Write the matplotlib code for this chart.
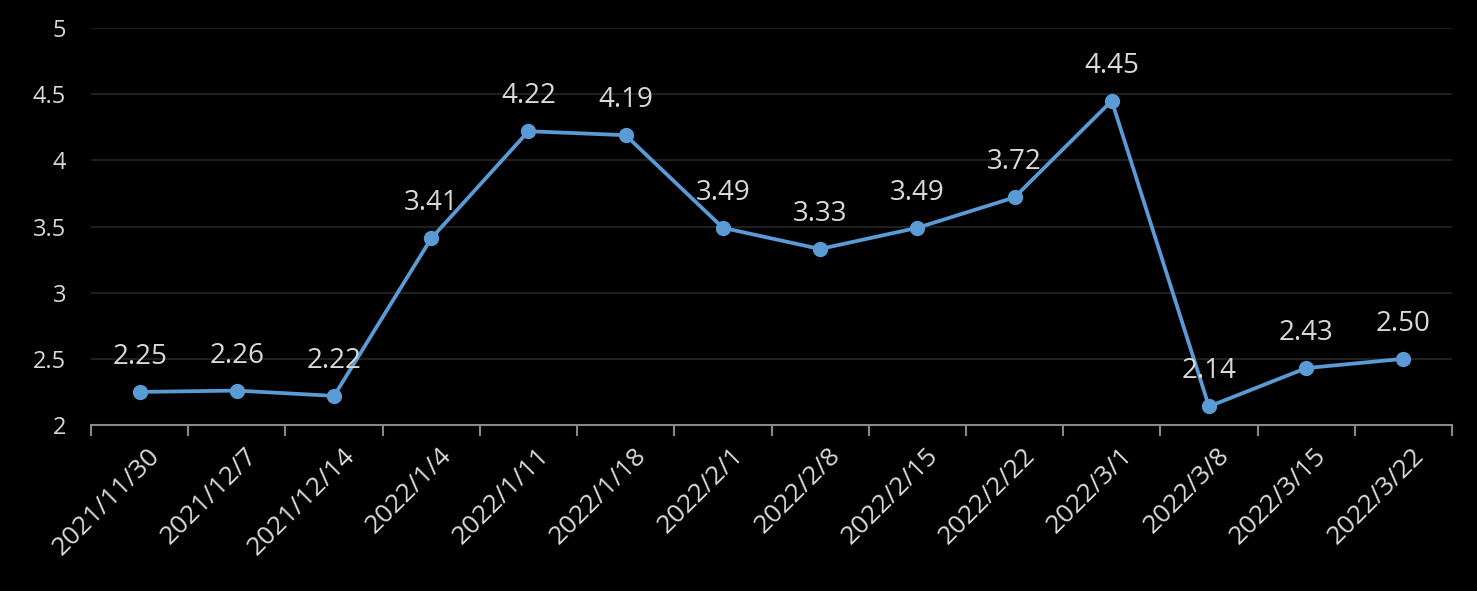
import matplotlib
matplotlib.use("Agg")
import matplotlib.pyplot as plt
from matplotlib.ticker import FixedLocator

dates = ["2021/11/30", "2021/12/7", "2021/12/14", "2022/1/4", "2022/1/11", "2022/1/18",
         "2022/2/1", "2022/2/8", "2022/2/15", "2022/2/22", "2022/3/1", "2022/3/8",
         "2022/3/15", "2022/3/22"]
values = [2.25, 2.26, 2.22, 3.41, 4.22, 4.19, 3.49, 3.33, 3.49, 3.72, 4.45, 2.14, 2.43, 2.50]
yticks = [2, 2.5, 3, 3.5, 4, 4.5, 5]
ytick_labels = ['2', '2.5', '3', '3.5', '4', '4.5', '5']

plt.rcParams['font.family'] = ['Open Sans', 'DejaVu Sans']
txt = '#d9d9d9'
line_c = '#5b9bd5'

fig = plt.figure(figsize=(14.77, 5.91), dpi=100, facecolor='black')
ax = fig.add_axes([91/1477, 1-425/591, (1452-91)/1477, (425-28)/591])
ax.set_facecolor('black')

x = list(range(len(dates)))
ax.plot(x, values, color=line_c, lw=2.7, marker='o', ms=10, zorder=3, clip_on=False)
for xi, v in zip(x, values):
    ax.annotate(f"{v:.2f}", (xi, v), xytext=(0, 35), textcoords='offset pixels',
                ha='center', va='center', color=txt, fontsize=20, zorder=4)

ax.set_xlim(-0.5, len(dates) - 0.5)
ax.set_ylim(2, 5)
ax.set_yticks(yticks)
ax.set_yticklabels(ytick_labels)
ax.tick_params(axis='y', length=0, pad=18, labelsize=17, labelcolor=txt)
ax.grid(axis='y', color='#262626', lw=1.2, zorder=0)

ax.set_xticks(x)
ax.set_xticklabels(dates, rotation=45, ha='right', va='top', rotation_mode='anchor')
ax.xaxis.set_minor_locator(FixedLocator([i - 0.5 for i in range(len(dates) + 1)]))
ax.tick_params(axis='x', which='major', length=0, pad=13, labelsize=19, labelcolor=txt)
ax.tick_params(axis='x', which='minor', length=8, width=1.5, color='#898989', direction='out')
for lbl in ax.get_xticklabels():
    lbl.set_transform(lbl.get_transform() + matplotlib.transforms.ScaledTranslation(8/100, 0, fig.dpi_scale_trans))

for s in ['top', 'right', 'left']:
    ax.spines[s].set_visible(False)
ax.spines['bottom'].set_color('#898989')
ax.spines['bottom'].set_linewidth(1.5)

fig.savefig('out.png', dpi=100, facecolor='black')
